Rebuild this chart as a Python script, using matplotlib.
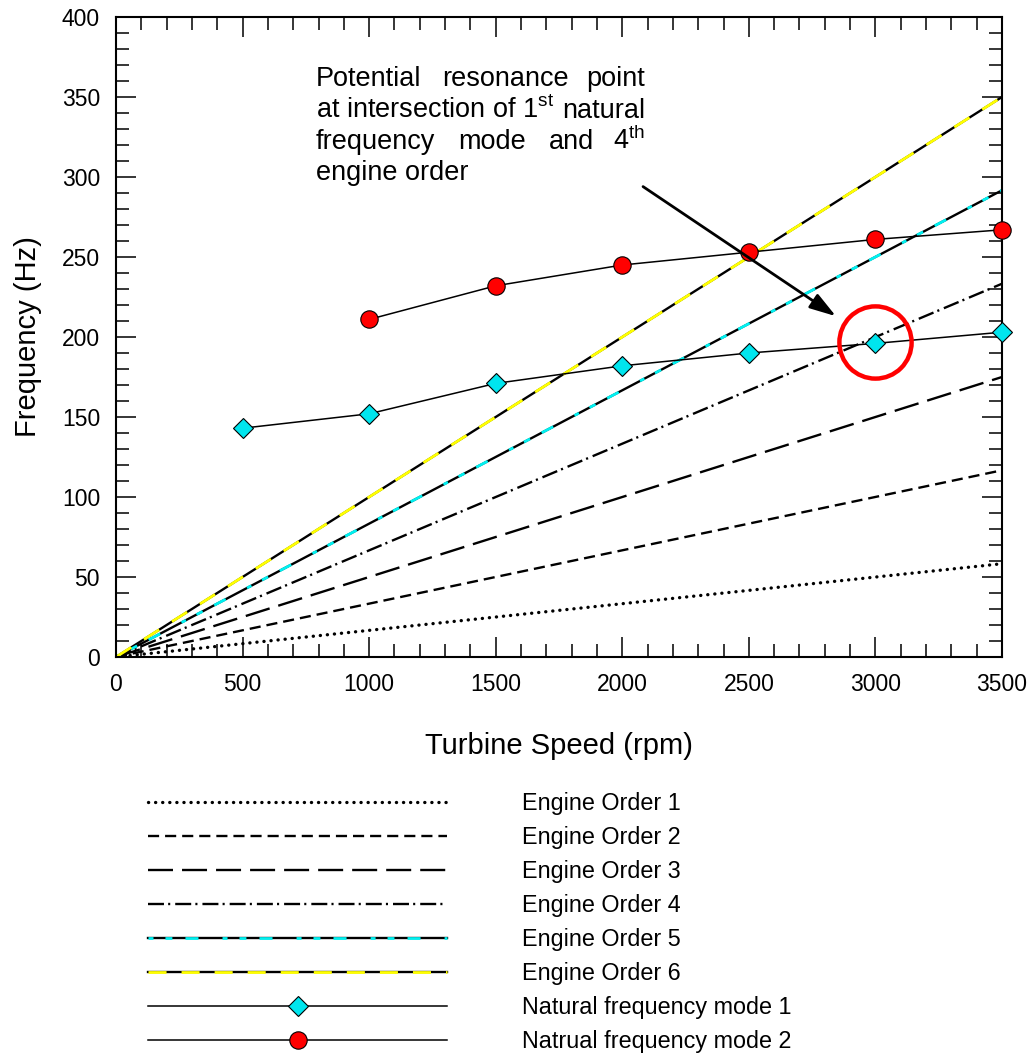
import matplotlib

matplotlib.use("Agg")
import matplotlib.pyplot as plt
from matplotlib.patches import FancyArrowPatch
from matplotlib.ticker import MultipleLocator

plt.rcParams["font.family"] = ["Liberation Sans", "DejaVu Sans"]
plt.rcParams["mathtext.fontset"] = "custom"
plt.rcParams["mathtext.rm"] = "Liberation Sans"
plt.rcParams["mathtext.it"] = "Liberation Sans:italic"
plt.rcParams["lines.scale_dashes"] = False

# --- data ------------------------------------------------------------------
eo_speed = [0, 3500]                       # rpm, engine order lines run 0..3500
eo_end_freq = [58.3, 116.7, 175.0, 233.3, 291.7, 350.0]   # Hz at 3500 rpm
eo_labels = ["Engine Order 1", "Engine Order 2", "Engine Order 3",
             "Engine Order 4", "Engine Order 5", "Engine Order 6"]

mode1_speed = [500, 1000, 1500, 2000, 2500, 3000, 3500]
mode1_freq = [143, 152, 171, 182, 190, 196, 203]
mode2_speed = [1000, 1500, 2000, 2500, 3000, 3500]
mode2_freq = [211, 232, 245, 253, 261, 267]
mode_labels = ["Natural frequency mode 1", "Natrual frequency mode 2"]

resonance = (3000, 197)

fig = plt.figure(figsize=(10.31, 10.57), dpi=100)
ax = fig.add_axes([116 / 1031, 400 / 1057, 886 / 1031, 640 / 1057])

# dash patterns in points
styles = [
    dict(linestyle=(0, (0.1, 5.0)), dash_capstyle="round", linewidth=2.4),
    dict(linestyle=(0, (8.0, 4.3))),
    dict(linestyle=(0, (18.0, 6.5))),
    dict(linestyle=(0, (11.5, 3.0, 1.5, 3.6))),
]

handles = []
for i, end in enumerate(eo_end_freq):
    ys = [0, end]
    if i < 4:
        kw = dict(color="black", linewidth=1.7)
        kw.update(styles[i])
        (ln,) = ax.plot(eo_speed, ys, zorder=2, **kw)
        handles.append(ln)
    elif i == 4:
        (base,) = ax.plot(eo_speed, ys, color="black", linewidth=1.7, zorder=2)
        (over,) = ax.plot(eo_speed, ys, color="#00f0f0", linewidth=2.0, zorder=2.1,
                          linestyle=(0, (3.6, 8.6, 5.0, 9.4, 9.4, 17.3)))
        handles.append((base, over))
    else:
        (base,) = ax.plot(eo_speed, ys, color="black", linewidth=1.7, zorder=2)
        (over,) = ax.plot(eo_speed, ys, color="#ffff00", linewidth=2.0, zorder=2.1,
                          linestyle=(0, (13.0, 10.8)))
        handles.append((base, over))

(m1,) = ax.plot(mode1_speed, mode1_freq, color="black", linewidth=1.1,
                marker="D", markersize=10.5, markerfacecolor="#00e5ee",
                markeredgecolor="black", markeredgewidth=0.8, zorder=4,
                clip_on=False)
(m2,) = ax.plot(mode2_speed, mode2_freq, color="black", linewidth=1.1,
                marker="o", markersize=12.5, markerfacecolor="#ff0000",
                markeredgecolor="black", markeredgewidth=0.8, zorder=4,
                clip_on=False)
handles += [m1, m2]

# resonance ring
ax.plot(*resonance, marker="o", markersize=52, markerfacecolor="none",
        markeredgecolor="#ff0000", markeredgewidth=3.2, zorder=5)

ax.add_patch(FancyArrowPatch(
    (2082, 294), (2844, 213),
    arrowstyle="-|>,head_length=16,head_width=5",
    color="black", linewidth=2.0, zorder=6, shrinkA=0, shrinkB=0,
))

# justified annotation text
fs_note = 19.5
ax.text(790, 357, "Potential", fontsize=fs_note, ha="left", va="baseline")
ax.text(1537, 357, "resonance", fontsize=fs_note, ha="center", va="baseline")
ax.text(2090, 357, "point", fontsize=fs_note, ha="right", va="baseline")
ax.text(790, 337, r"at intersection of 1$^{\mathrm{st}}$", fontsize=fs_note,
        ha="left", va="baseline")
ax.text(2090, 337, "natural", fontsize=fs_note, ha="right", va="baseline")
ax.text(790, 317.5, "frequency", fontsize=fs_note, ha="left", va="baseline")
ax.text(1485, 317.5, "mode", fontsize=fs_note, ha="center", va="baseline")
ax.text(1801, 317.5, "and", fontsize=fs_note, ha="center", va="baseline")
ax.text(2090, 317.5, r"4$^{\mathrm{th}}$", fontsize=fs_note, ha="right", va="baseline")
ax.text(790, 298, "engine order", fontsize=fs_note, ha="left", va="baseline")

ax.set_xlim(0, 3500)
ax.set_ylim(0, 400)
ax.xaxis.set_major_locator(MultipleLocator(500))
ax.xaxis.set_minor_locator(MultipleLocator(100))
ax.yaxis.set_major_locator(MultipleLocator(50))
ax.yaxis.set_minor_locator(MultipleLocator(10))
ax.tick_params(which="both", direction="in", top=True, right=True, width=1.1,
               labelsize=16.5, pad=11.5)
ax.tick_params(which="major", length=14.5)
ax.tick_params(which="minor", length=9.5)
for sp in ax.spines.values():
    sp.set_linewidth(1.5)

ax.set_xlabel("Turbine Speed (rpm)", fontsize=21, labelpad=26)
ax.set_ylabel("Frequency (Hz)", fontsize=21, labelpad=14)

fs_leg = 16.8
fig.legend(handles, eo_labels + mode_labels,
           loc="upper left", bbox_to_anchor=(148 / 1031, 1 - 792 / 1057),
           frameon=False, fontsize=fs_leg, handlelength=299 / (fs_leg * 100 / 72),
           handletextpad=75 / (fs_leg * 100 / 72),
           labelspacing=0.47, numpoints=1, borderaxespad=0, borderpad=0)

fig.savefig("out.png", dpi=100)
